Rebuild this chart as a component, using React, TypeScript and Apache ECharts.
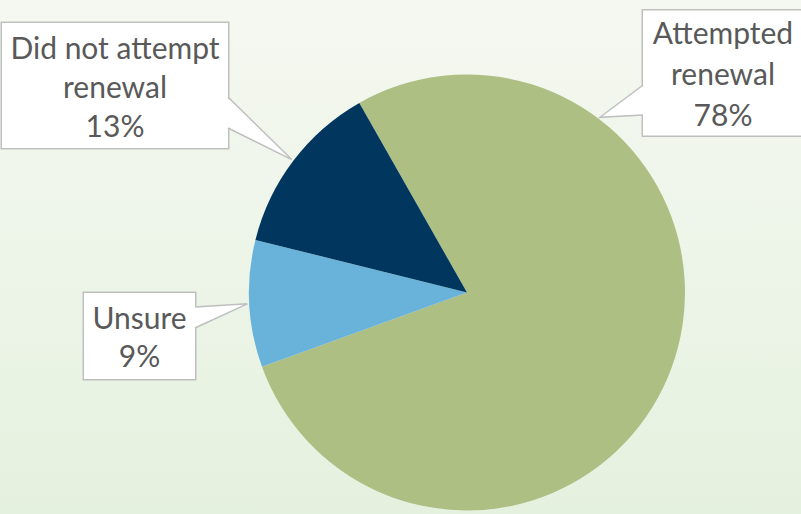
import React, { useEffect, useRef } from "react";
import * as echarts from "echarts";

const categories = ["Attempted renewal", "Unsure", "Did not attempt renewal"];
const labelNames = ["Attempted\nrenewal", "Unsure", "Did not attempt\nrenewal"];
const values = [77.7, 9.4, 12.9];
const colors = ["#ADBF83", "#69B3DB", "#01375F"];

// layout of the pie and the callout boxes (pixels)
const CENTER = [467, 292.5];
const RADIUS = 218;
const START_ANGLE = 119.6;
const boxes = [
  { cx: 723, cy: 73, w: 160, lh: 41, pad: 1, edge: "left", baseY: [85, 115], angle: 52.8 },
  { cx: 139.5, cy: 336, w: 111, lh: 38, pad: 5, edge: "right", baseY: [307, 328], angle: null },
  { cx: 115, cy: 85.5, w: 226, lh: 39, pad: 4, edge: "right", baseY: [97, 128], angle: null },
];

export default function App() {
  const ref = useRef<HTMLDivElement>(null);
  useEffect(() => {
    if (!ref.current) return;
    const chart = echarts.init(ref.current, null, { renderer: "svg" });
    const total = values.reduce((a, b) => a + b, 0);
    let cum = 0;
    const mids = values.map((v) => {
      const sweep = (v / total) * 360;
      const mid = START_ANGLE - cum - sweep / 2;
      cum += sweep;
      return mid;
    });
    const graphics: any[] = [];
    boxes.forEach((b, i) => {
      const a = ((b.angle ?? mids[i]) * Math.PI) / 180;
      const tip = [CENTER[0] + (RADIUS + 2) * Math.cos(a), CENTER[1] - (RADIUS + 2) * Math.sin(a)];
      const ex = b.edge === "right" ? b.cx + b.w / 2 : b.cx - b.w / 2;
      const inset = b.edge === "right" ? -1.5 : 1.5;
      graphics.push({
        type: "polygon",
        z: 100,
        shape: { points: [[ex + inset, b.baseY[0]], tip, [ex + inset, b.baseY[1]]] },
        style: { fill: "#ffffff", stroke: null },
      });
      graphics.push({
        type: "polyline",
        z: 101,
        shape: { points: [[ex, b.baseY[0]], tip, [ex, b.baseY[1]]] },
        style: { stroke: "#bfbfbf", lineWidth: 1.5, fill: null },
      });
    });
    chart.setOption({
      animation: false,
      backgroundColor: {
        type: "linear",
        x: 0,
        y: 0,
        x2: 0,
        y2: 1,
        colorStops: [
          { offset: 0, color: "#f5f8f1" },
          { offset: 1, color: "#e5f1df" },
        ],
      },
      graphic: graphics,
      series: [
        {
          type: "pie",
          center: CENTER,
          radius: RADIUS,
          startAngle: START_ANGLE,
          clockwise: true,
          silent: true,
          emphasis: { disabled: true },
          labelLine: { show: false },
          label: {
            show: true,
            position: "outside",
            formatter: (p: any) => `${labelNames[p.dataIndex]}\n${Math.round(p.value)}%`,
            fontFamily: "Lato",
            fontSize: 30,
            color: "#595959",
            align: "center",
            backgroundColor: "#ffffff",
            borderColor: "#bfbfbf",
            borderWidth: 1.5,
          },
          labelLayout: (params: any) => {
            const b = boxes[params.dataIndex];
            return { x: b.cx, y: b.cy, align: "center", verticalAlign: "middle" };
          },
          data: categories.map((name, i) => ({
            name,
            value: values[i],
            itemStyle: { color: colors[i], borderWidth: 0 },
            label: {
              width: boxes[i].w,
              lineHeight: boxes[i].lh,
              padding: [boxes[i].pad, 0],
            },
          })),
        },
      ],
    });
    return () => chart.dispose();
  }, []);
  return (
    <div
      ref={ref}
      style={{ position: "fixed", left: 0, top: 0, width: 801, height: 514 }}
    />
  );
}
